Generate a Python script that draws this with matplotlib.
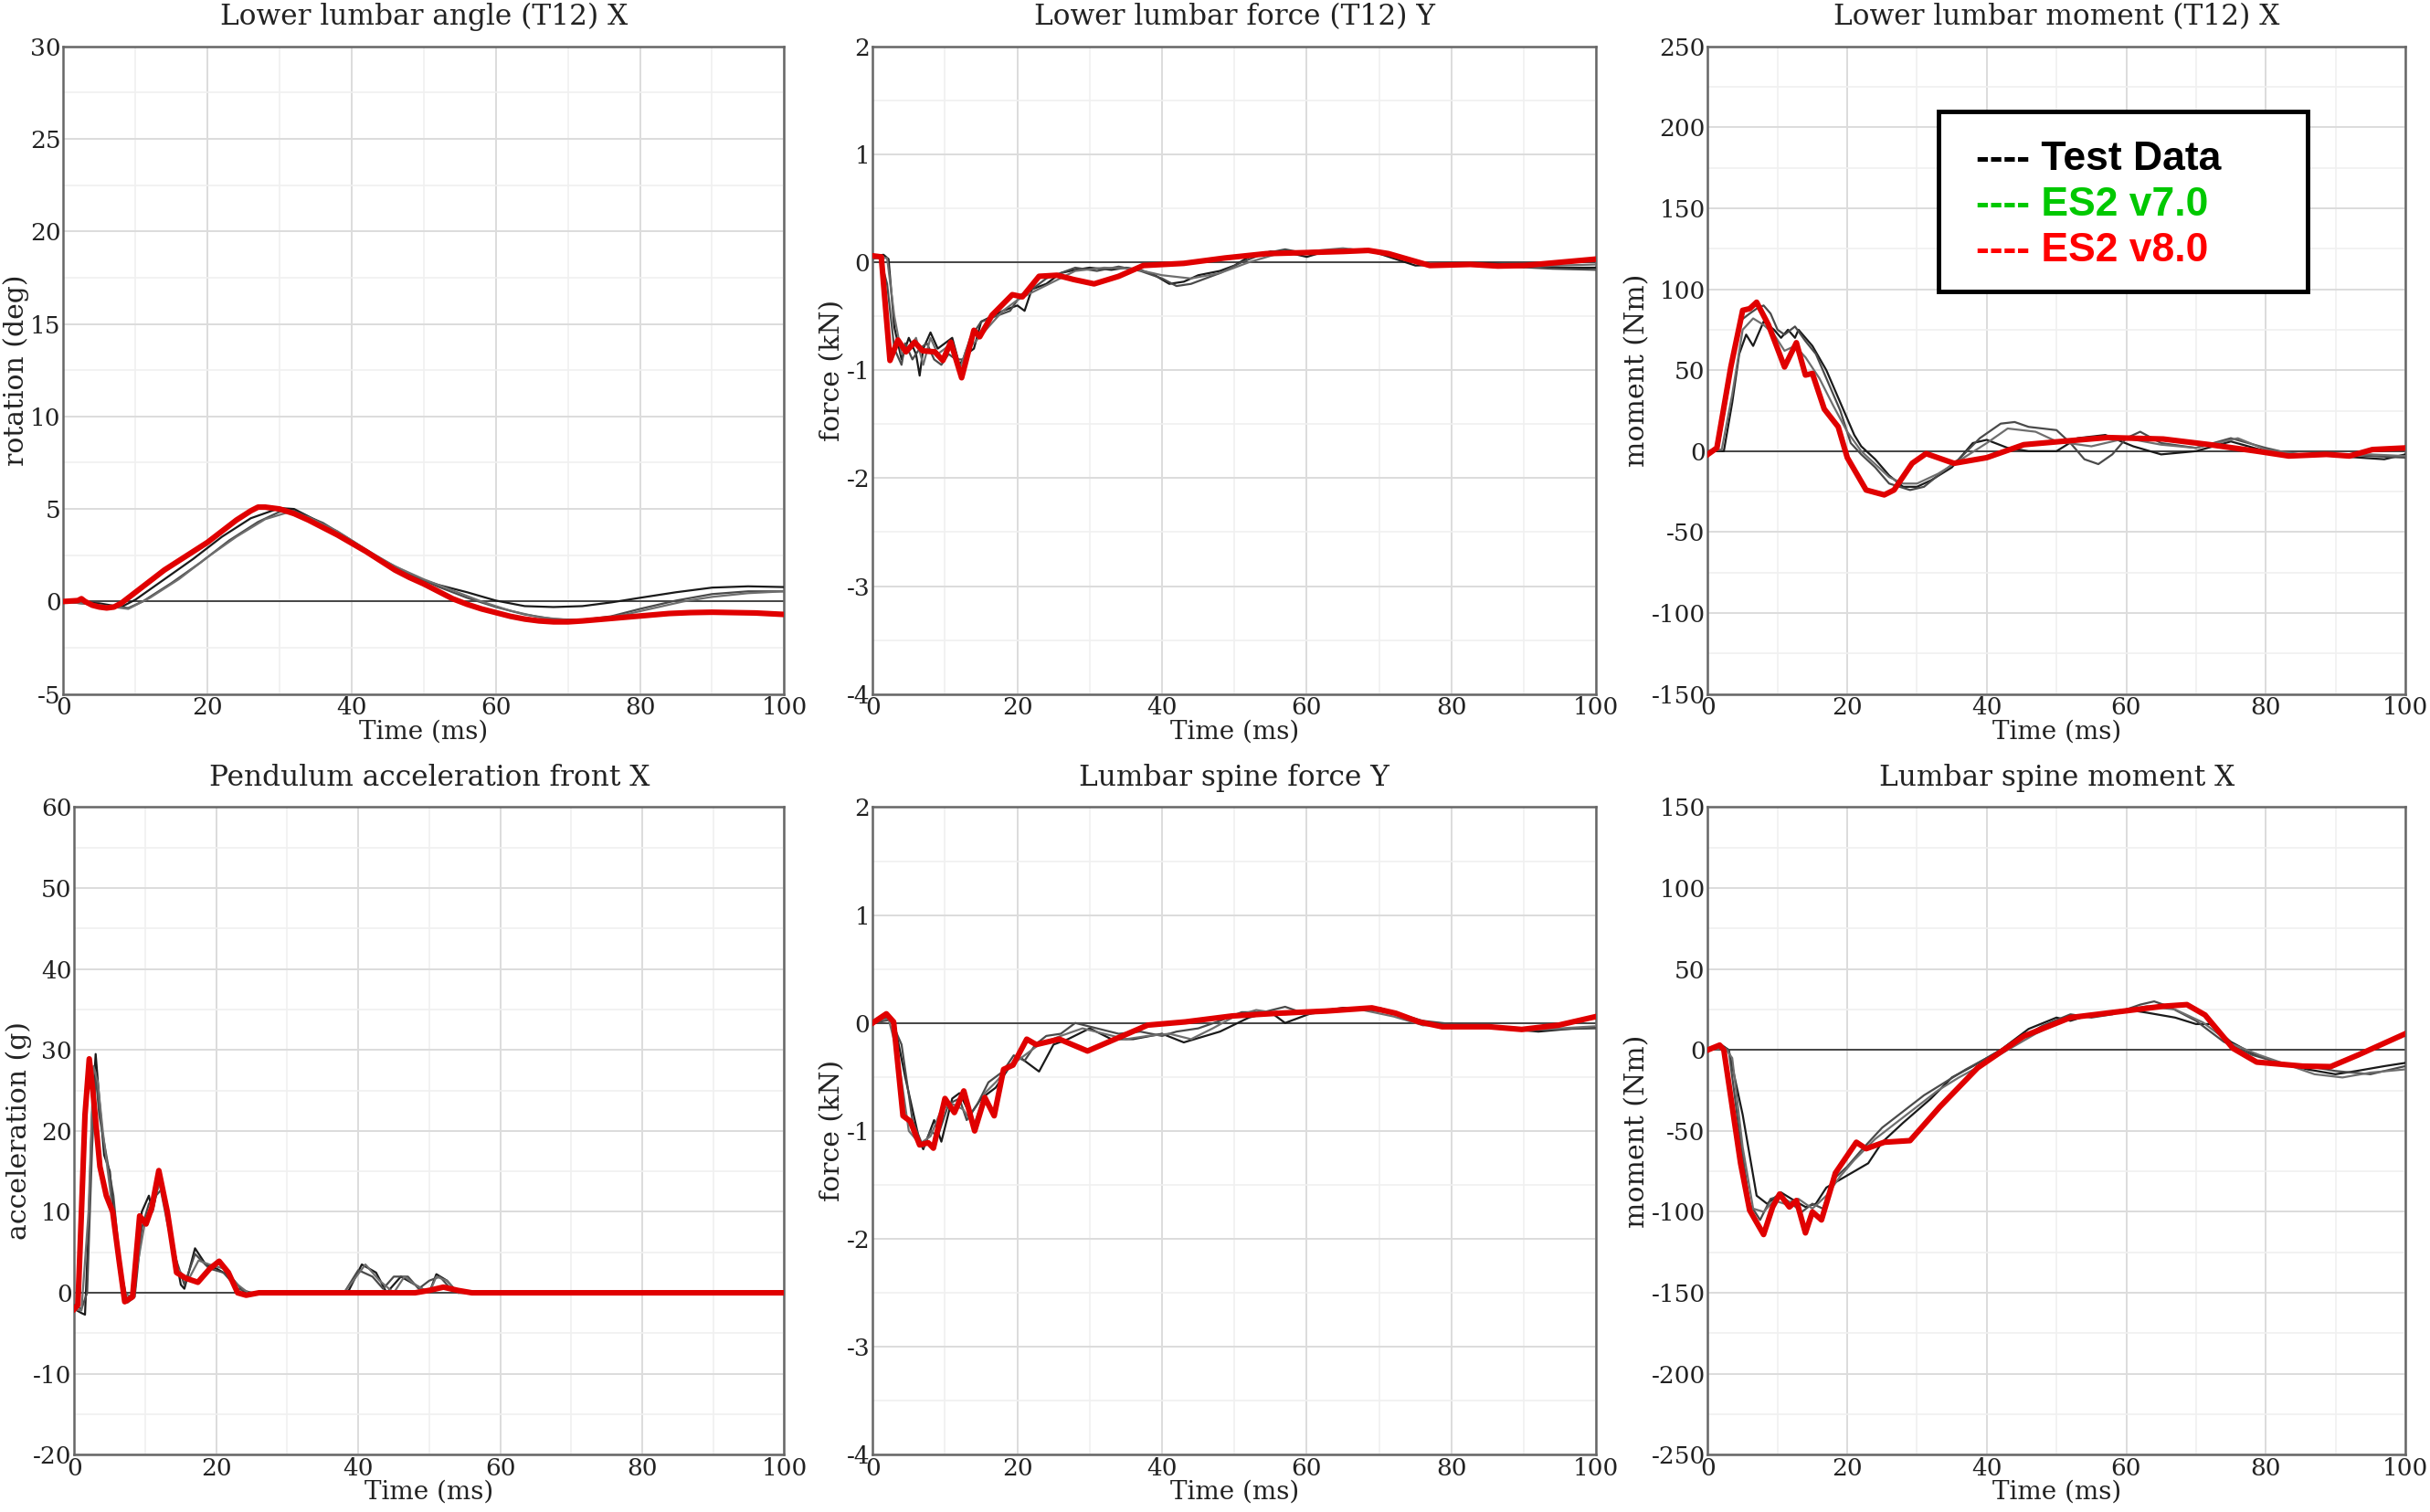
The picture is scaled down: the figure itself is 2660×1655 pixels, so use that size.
import matplotlib
matplotlib.use("Agg")
import matplotlib.pyplot as plt
from matplotlib.patches import Rectangle
from matplotlib.ticker import MultipleLocator

plt.rcParams['font.family'] = ['DejaVu Serif']
plt.rcParams['axes.unicode_minus'] = False

# ---- Lower lumbar angle (T12) X ----
angle_v8_t = [0, 2, 2.5, 3, 4, 5, 6, 7, 8, 9, 10, 12, 14, 16, 18, 20, 22, 24, 26, 27, 28, 30, 32, 34, 36, 38,
              40, 42, 44, 46, 48, 50, 52, 54, 56, 58, 60, 62, 64, 66, 68, 70, 72, 75, 78, 81, 84, 87, 90, 93, 96, 100]
angle_v8 = [0, 0.05, 0.15, 0, -0.2, -0.3, -0.35, -0.3, -0.1, 0.2, 0.5, 1.1, 1.7, 2.2, 2.7, 3.2, 3.8, 4.4, 4.9, 5.1,
            5.1, 5.0, 4.75, 4.4, 4.0, 3.6, 3.15, 2.7, 2.2, 1.7, 1.3, 0.95, 0.55, 0.15, -0.15, -0.4, -0.6, -0.8, -0.95,
            -1.05, -1.1, -1.1, -1.05, -0.95, -0.85, -0.75, -0.65, -0.6, -0.58, -0.6, -0.62, -0.7]
angle_t1_t = [0, 5, 8, 10, 14, 18, 22, 26, 30, 32, 36, 40, 44, 48, 52, 56, 60, 64, 68, 72, 76, 80, 85, 90, 95, 100]
angle_t1 = [0, -0.1, -0.3, 0.1, 1.2, 2.3, 3.5, 4.5, 5.05, 5.0, 4.2, 3.2, 2.2, 1.4, 0.9, 0.5, 0.05, -0.25, -0.3,
            -0.25, -0.05, 0.2, 0.5, 0.75, 0.82, 0.78]
angle_t2_t = [0, 5, 9, 11, 15, 19, 23, 27, 30, 32, 36, 40, 44, 48, 52, 56, 60, 64, 68, 72, 76, 80, 85, 90, 95, 100]
angle_t2 = [0, -0.2, -0.35, 0.0, 1.0, 2.1, 3.3, 4.3, 4.85, 4.9, 4.25, 3.3, 2.3, 1.5, 0.8, 0.2, -0.3, -0.7, -0.95,
            -1.0, -0.8, -0.4, 0.05, 0.4, 0.55, 0.55]
angle_t3_t = [0, 5, 9, 12, 16, 20, 24, 28, 31, 34, 38, 42, 46, 50, 54, 58, 62, 66, 70, 74, 78, 82, 86, 90, 95, 100]
angle_t3 = [0, -0.2, -0.4, 0.2, 1.2, 2.4, 3.5, 4.45, 4.8, 4.55, 3.8, 2.8, 1.9, 1.2, 0.6, 0.0, -0.5, -0.85, -1.0,
            -0.95, -0.7, -0.35, 0.0, 0.25, 0.45, 0.55]

# ---- Lower lumbar force (T12) Y ----
force_v8_t = [0, 1.2, 2.4, 3.5, 4.6, 5.8, 6.9, 8.6, 9.7, 10.8, 12.3, 14, 14.8, 16.5, 19.3, 20.7, 23, 25.5, 27.8,
              30.6, 34, 37.4, 43, 48.7, 54.4, 60, 65, 68.5, 71.3, 77, 82.6, 86.4, 90, 95, 100]
force_v8 = [0.06, 0.05, -0.91, -0.72, -0.83, -0.74, -0.82, -0.83, -0.91, -0.74, -1.07, -0.63, -0.69, -0.49, -0.30,
            -0.32, -0.13, -0.12, -0.16, -0.2, -0.13, -0.03, -0.01, 0.04, 0.08, 0.09, 0.1, 0.11, 0.08, -0.03, -0.02,
            -0.035, -0.03, 0.0, 0.03]
force_t1_t = [0, 1.5, 2.2, 3, 4, 5, 6, 6.5, 7, 8, 9, 10, 11, 12, 13, 14, 15, 16.5, 18, 20, 21, 22, 24, 26, 28, 30,
              33, 35, 37, 39, 41, 43, 45, 48, 50, 52, 55, 58, 60, 62, 65, 68, 70, 75, 80, 85, 90, 95, 100]
force_t1 = [0.05, 0.07, 0.03, -0.6, -0.9, -0.7, -0.85, -1.05, -0.8, -0.65, -0.8, -0.75, -0.7, -0.95, -0.85, -0.8,
            -0.55, -0.5, -0.45, -0.4, -0.45, -0.25, -0.2, -0.1, -0.07, -0.05, -0.07, -0.05, -0.07, -0.12, -0.2,
            -0.18, -0.12, -0.08, -0.03, 0.05, 0.1, 0.08, 0.05, 0.09, 0.1, 0.12, 0.08, -0.03, -0.02, -0.01, -0.03,
            -0.05, -0.05]
force_t2_t = [0, 1, 2, 3, 4, 4.5, 5.5, 6.5, 7.5, 8.5, 9.5, 10.5, 11.5, 12.5, 13.5, 15, 17, 19, 20.5, 22, 24, 26,
              28, 31, 34, 37, 40, 42, 44, 46, 48, 51, 54, 57, 60, 63, 66, 70, 74, 78, 83, 88, 94, 100]
force_t2 = [0.03, 0.05, -0.2, -0.8, -0.95, -0.75, -0.9, -0.8, -0.75, -0.9, -0.95, -0.85, -0.9, -0.9, -0.7, -0.55,
            -0.5, -0.45, -0.3, -0.25, -0.15, -0.1, -0.05, -0.08, -0.04, -0.08, -0.15, -0.22, -0.2, -0.15, -0.1, 0.0,
            0.08, 0.12, 0.08, 0.1, 0.12, 0.1, 0.02, -0.02, -0.02, -0.04, -0.06, -0.07]
force_t3_t = [0, 2, 3, 4, 5, 6, 7, 8, 9, 10, 11, 12, 13, 14, 16, 18, 20, 22, 25, 28, 32, 36, 40, 44, 48, 52, 56,
              60, 65, 70, 75, 80, 90, 100]
force_t3 = [0.04, 0.04, -0.5, -0.85, -0.8, -0.7, -0.95, -0.7, -0.85, -0.8, -0.75, -1.0, -0.8, -0.75, -0.6, -0.45,
            -0.35, -0.28, -0.18, -0.08, -0.05, -0.06, -0.12, -0.15, -0.1, 0.0, 0.08, 0.1, 0.13, 0.09, 0.0, -0.02,
            -0.04, -0.02]

# ---- Lower lumbar moment (T12) X ----
moment_v8_t = [0, 1.3, 3.3, 5, 6, 7, 8.7, 11, 12.7, 14, 15, 16.7, 18.7, 20, 22.7, 25.3, 26.7, 29.3, 31.3, 35.3,
               40, 45.3, 52, 57.3, 65.3, 72, 78.7, 83.3, 88.7, 92, 95.3, 100]
moment_v8 = [-2, 2, 52, 87, 88, 92, 78, 52, 67, 47, 48, 26, 15, -4, -24, -27, -24, -7.5, -1.5, -7.5, -4, 4, 6.5,
             8.4, 7.5, 4, 0, -3, -2, -3, 1, 2]
moment_t1_t = [0, 2.3, 3.5, 4.5, 5.5, 6.5, 8, 9.5, 10.5, 11.5, 12.5, 13, 15, 17, 19, 21, 22, 24, 26, 28, 30, 32,
               35, 38, 40, 43, 46, 50, 53, 57, 61, 65, 70, 75, 80, 85, 90, 97, 100]
moment_t1 = [0, 0, 30, 60, 72, 65, 80, 75, 70, 75, 70, 75, 65, 50, 30, 10, 3, -5, -15, -22, -22, -18, -10, 5, 7,
             2, 0, 0, 8, 10, 3, -2, 0, 6, 0, -2, -3, -5, -2]
moment_t2_t = [0, 1.5, 3, 4.5, 6, 7, 8, 9, 10, 11, 12.5, 14, 15.5, 17, 19, 20.5, 22, 24, 26, 29, 31, 33, 36, 39,
               42, 44, 46, 48, 50, 52, 54, 56, 58, 60, 62, 65, 70, 75, 80, 85, 90, 95, 100]
moment_t2 = [0, 2, 40, 80, 85, 88, 90, 85, 75, 72, 77, 68, 60, 45, 25, 5, -2, -10, -20, -24, -22, -15, -5, 8, 17,
             18, 15, 14, 13, 5, -5, -8, -2, 8, 12, 5, 2, 8, 2, -3, -2, -3, -4]
moment_t3_t = [0, 2, 3.5, 5, 6.5, 8, 9.5, 11, 12.5, 14, 16, 18, 20, 22, 24, 26, 28, 30, 33, 36, 40, 43, 47, 50,
               55, 60, 65, 70, 76, 80, 85, 90, 95, 100]
moment_t3 = [0, 1, 35, 75, 82, 78, 72, 62, 65, 58, 45, 28, 12, 0, -8, -16, -20, -20, -14, -6, 5, 14, 12, 6, 3, 8,
             4, 2, 8, 1, -2, -3, -2, -3]

# ---- Pendulum acceleration front X ----
accel_v8_t = [0, 0.5, 1, 1.5, 2.1, 2.6, 3.6, 4.5, 5.4, 6.3, 7.1, 8.2, 9.2, 10.1, 10.9, 11.9, 13.1, 14.4, 15.7,
              17.4, 19.1, 20.4, 21.7, 23, 24.2, 26, 30, 40, 48, 50, 52, 54, 56, 60, 100]
accel_v8 = [-2, -1.5, 10, 22, 28.9, 25, 15.6, 12, 10, 4, -1.1, -0.5, 9.5, 8.5, 10.5, 15.1, 10, 2.5, 1.8, 1.3, 3,
            3.9, 2.5, 0, -0.3, 0, 0, 0, 0, 0.3, 0.7, 0.3, 0, 0, 0]
accel_t1_t = [0, 1, 1.5, 2, 2.5, 3, 3.5, 4.2, 5, 6, 7, 7.5, 8.5, 9.5, 10.5, 11, 12, 13.5, 15, 15.5, 17, 18.5, 20,
              22, 24, 37, 38.5, 40.5, 42.5, 44, 46, 48, 50, 51, 52.5, 54, 100]
accel_t1 = [-2, -2.5, -2.7, 8, 22, 29.5, 24, 17, 15, 5, -1, -1, 0, 10, 12, 10, 14, 8, 1, 0.5, 5.5, 3.5, 3, 2, 0,
            0, 0, 3.5, 2.5, 0, 2, 1, 0, 2.3, 1.5, 0, 0]
accel_t2_t = [0, 1, 1.8, 2.5, 3, 3.5, 4.5, 5.5, 6.5, 7.5, 8.5, 9.5, 10.5, 11.5, 12.5, 14, 15.5, 17, 19, 21, 23, 25,
              36, 38, 40, 42, 43.5, 45, 47, 48.5, 50, 51.5, 53, 55, 100]
accel_t2 = [-1.5, -2, 0, 18, 27, 22, 17, 12, 3, -1.2, -0.5, 8, 11, 12, 13, 5, 1, 4.8, 3, 2.5, 0.5, 0, 0, 0, 2.8, 2,
            0.5, 2, 2, 0.5, 1.5, 2, 0.5, 0, 0]
accel_t3_t = [0, 1, 2, 2.7, 3.3, 4, 5, 6, 7, 8, 9, 10, 11, 12, 13, 14.5, 16, 17.5, 19, 21, 23, 24.5, 38, 41, 43, 45,
              46.5, 48, 50, 51, 52.5, 54, 100]
accel_t3 = [-2, -2.2, 10, 28, 26, 20, 13, 5, 0, -0.5, 4, 9, 11, 13.5, 9, 3, 1.5, 4, 3.5, 3, 1, 0, 0, 3.5, 1.5, 0,
            2, 1, 0, 2, 1.5, 0, 0]

# ---- Lumbar spine force Y ----
spforce_v8_t = [0, 1.9, 2.9, 4.2, 5.2, 6.5, 7.7, 8.4, 10, 11.3, 12.6, 14.1, 15.5, 16.8, 18.1, 19.4, 21.3, 22.6,
                25.8, 29.7, 33.5, 38, 43.2, 49.7, 56, 62.6, 69, 72.3, 75.5, 78.7, 85.2, 89.7, 94.8, 100]
spforce_v8 = [0, 0.085, 0.01, -0.86, -0.91, -1.13, -1.11, -1.16, -0.70, -0.83, -0.63, -1.0, -0.69, -0.86, -0.43,
              -0.39, -0.15, -0.2, -0.15, -0.26, -0.15, -0.02, 0.01, 0.065, 0.09, 0.11, 0.14, 0.09, 0.01, -0.035,
              -0.035, -0.06, -0.02, 0.06]
spforce_t1_t = [0, 2, 3, 4.5, 6.5, 7, 8.5, 9.5, 11, 12, 13.5, 15, 17, 18, 20, 23, 25, 27, 30, 33, 36, 40, 43, 46,
                48, 52, 55, 57, 61, 65, 70, 73, 76, 80, 85, 92, 97, 100]
spforce_t1 = [0, 0.05, 0, -0.5, -1.1, -1.17, -0.9, -1.1, -0.7, -0.65, -0.85, -0.7, -0.6, -0.5, -0.3, -0.45, -0.2,
              -0.15, -0.05, -0.15, -0.15, -0.1, -0.18, -0.12, -0.08, 0.05, 0.1, 0.0, 0.1, 0.14, 0.14, 0.08, -0.02,
              -0.01, -0.04, -0.08, -0.05, -0.04]
spforce_t2_t = [0, 2.5, 4, 5.5, 7, 8, 9, 10.5, 12, 13, 14.5, 16, 18, 19.5, 21, 22.5, 24, 26, 28, 31, 34, 37, 40,
                42, 45, 48, 51, 54, 57, 60, 64, 68, 72, 76, 80, 86, 92, 100]
spforce_t2 = [0, 0.03, -0.2, -0.9, -1.15, -1.0, -1.05, -0.75, -0.7, -0.9, -0.75, -0.55, -0.45, -0.3, -0.35, -0.2,
              -0.12, -0.1, 0.0, -0.05, -0.1, -0.08, -0.12, -0.08, -0.05, 0.02, 0.1, 0.1, 0.15, 0.08, 0.12, 0.12,
              0.1, 0.02, -0.01, -0.03, -0.06, -0.05]
spforce_t3_t = [0, 2.2, 3.5, 5, 6.5, 8, 9.5, 11, 12.5, 14, 15.5, 17, 19, 21, 23, 26, 29, 32, 35, 38, 41, 44, 47,
                50, 53, 57, 62, 67, 72, 76, 82, 90, 100]
spforce_t3 = [0.02, 0.04, -0.3, -1.0, -1.12, -1.05, -0.8, -0.75, -0.8, -0.95, -0.65, -0.55, -0.4, -0.3, -0.2,
              -0.12, -0.05, -0.1, -0.15, -0.12, -0.1, -0.15, -0.05, 0.06, 0.12, 0.08, 0.12, 0.13, 0.06, -0.02,
              -0.03, -0.07, -0.03]

# ---- Lumbar spine moment X ----
spmom_v8_t = [0, 1.7, 2.3, 4.7, 6, 8, 9.3, 10.3, 11.7, 12.7, 14, 15, 16.3, 18.3, 21.3, 22.7, 25.3, 29, 33.3, 38.7,
              45.3, 52, 58.7, 65.3, 68.7, 71.3, 75.3, 78.7, 85.3, 89.3, 93.3, 100]
spmom_v8 = [0, 3, 0, -70, -99, -114, -97, -89, -97, -93, -113, -100, -105, -76, -57, -61, -57, -56, -35, -11, 8.5,
            20, 23.5, 27, 28, 21.6, 1, -7.5, -10, -10.3, -3, 10]
spmom_t1_t = [0, 2, 3, 5, 7, 8.5, 10.5, 12, 14, 15.5, 17, 19, 21, 23, 25, 28, 32, 35, 38, 42, 46, 50, 52, 55, 60,
              63, 67, 70, 72, 75, 78, 82, 86, 90, 93, 97, 100]
spmom_t1 = [0, 3, 0, -40, -90, -95, -88, -92, -97, -95, -85, -80, -75, -70, -57, -45, -30, -17, -10, 0, 13, 20, 18,
            22, 25, 23, 20, 16, 16, 5, -2, -8, -12, -15, -13, -10, -8]
spmom_t2_t = [0, 2, 3, 4.5, 6, 7.5, 9, 10.5, 12, 13.5, 15, 16.5, 18, 20, 22, 25, 28, 31, 34, 37, 40, 44, 48, 52,
              55, 58, 62, 64, 66, 70, 74, 78, 82, 86, 90, 95, 100]
spmom_t2 = [0, 2, 0, -50, -95, -105, -92, -90, -95, -100, -95, -98, -80, -72, -62, -48, -38, -28, -20, -12, -5, 5,
            15, 22, 20, 22, 28, 30, 27, 18, 5, -3, -8, -10, -13, -15, -10]
spmom_t3_t = [0, 2.5, 3.5, 5, 6.5, 8, 9.5, 11, 13, 15, 17, 19, 21, 24, 27, 30, 33, 36, 39, 43, 47, 51, 55, 59, 63,
              67, 71, 75, 79, 83, 87, 91, 95, 100]
spmom_t3 = [0, 1, -5, -60, -98, -100, -93, -95, -92, -98, -90, -78, -68, -55, -45, -35, -25, -17, -10, 0, 10, 18,
            22, 24, 27, 25, 17, 4, -3, -9, -15, -17, -14, -12]

titles = ["Lower lumbar angle (T12) X", "Lower lumbar force (T12) Y", "Lower lumbar moment (T12) X",
          "Pendulum acceleration front X", "Lumbar spine force Y", "Lumbar spine moment X"]
ylabels = ["rotation (deg)", "force (kN)", "moment (Nm)", "acceleration (g)", "force (kN)", "moment (Nm)"]
ylims = [(-5, 30), (-4, 2), (-150, 250), (-20, 60), (-4, 2), (-250, 150)]
ysteps = [5, 1, 50, 10, 1, 50]

panels = [
    ([(angle_t1_t, angle_t1), (angle_t2_t, angle_t2), (angle_t3_t, angle_t3)], (angle_v8_t, angle_v8)),
    ([(force_t1_t, force_t1), (force_t2_t, force_t2), (force_t3_t, force_t3)], (force_v8_t, force_v8)),
    ([(moment_t1_t, moment_t1), (moment_t2_t, moment_t2), (moment_t3_t, moment_t3)], (moment_v8_t, moment_v8)),
    ([(accel_t1_t, accel_t1), (accel_t2_t, accel_t2), (accel_t3_t, accel_t3)], (accel_v8_t, accel_v8)),
    ([(spforce_t1_t, spforce_t1), (spforce_t2_t, spforce_t2), (spforce_t3_t, spforce_t3)], (spforce_v8_t, spforce_v8)),
    ([(spmom_t1_t, spmom_t1), (spmom_t2_t, spmom_t2), (spmom_t3_t, spmom_t3)], (spmom_v8_t, spmom_v8)),
]

# axes rectangles (figure fractions)
rects = [
    [0.0261, 0.541, 0.2966, 0.4283], [0.3591, 0.541, 0.2978, 0.4283], [0.7028, 0.541, 0.2870, 0.4283],
    [0.0306, 0.0379, 0.2921, 0.4283], [0.3591, 0.0379, 0.2978, 0.4283], [0.7028, 0.0379, 0.2870, 0.4283],
]

test_colors = ["#1a1a1a", "#4a4a4a", "#6e6e6e"]
txt = "#222222"

fig = plt.figure(figsize=(26.6, 16.55), dpi=100)

for i in range(6):
    ax = fig.add_axes(rects[i])
    tests, model = panels[i]
    ax.set_xlim(0, 100)
    ax.set_ylim(*ylims[i])
    ax.xaxis.set_major_locator(MultipleLocator(20))
    ax.xaxis.set_minor_locator(MultipleLocator(10))
    ax.yaxis.set_major_locator(MultipleLocator(ysteps[i]))
    ax.yaxis.set_minor_locator(MultipleLocator(ysteps[i] / 2))
    ax.grid(which="major", color="#dcdcdc", lw=1.4)
    ax.grid(which="minor", color="#f0f0f0", lw=1.2)
    ax.set_axisbelow(True)
    ax.axhline(0, color="#444444", lw=1.4, zorder=2)
    for (tt, yy), c in zip(tests, test_colors):
        ax.plot(tt, yy, color=c, lw=1.6, zorder=3, solid_joinstyle="round")
    ax.plot(model[0], model[1], color="#22bb22", lw=3.0, zorder=4, solid_joinstyle="round")
    ax.plot(model[0], model[1], color="#e00000", lw=4.4, zorder=5, solid_joinstyle="round")
    ax.tick_params(which="both", length=0, labelsize=19, colors=txt, pad=2)
    for s in ax.spines.values():
        s.set_color("#666666")
        s.set_linewidth(1.8)
    ax.set_title(titles[i], fontsize=22.5, color=txt, pad=17)
    ax.set_xlabel("Time (ms)", fontsize=20, color=txt, labelpad=0)
    ax.set_ylabel(ylabels[i], fontsize=21.5, color=txt, labelpad=1)

    if i == 2:
        ax.add_patch(Rectangle((0.331, 0.622), 0.529, 0.278, transform=ax.transAxes,
                               facecolor="white", edgecolor="black", lw=3.5, zorder=10))
        legend_items = [("---- Test Data", "black"), ("---- ES2 v7.0", "#00c800"), ("---- ES2 v8.0", "#ff0000")]
        for k, (label, col) in enumerate(legend_items):
            ax.text(0.384, 0.826 - k * 0.071, label, transform=ax.transAxes, color=col,
                    fontsize=32, fontweight="bold", family="Liberation Sans",
                    va="center", ha="left", zorder=11)

fig.savefig("out.png", dpi=100)
